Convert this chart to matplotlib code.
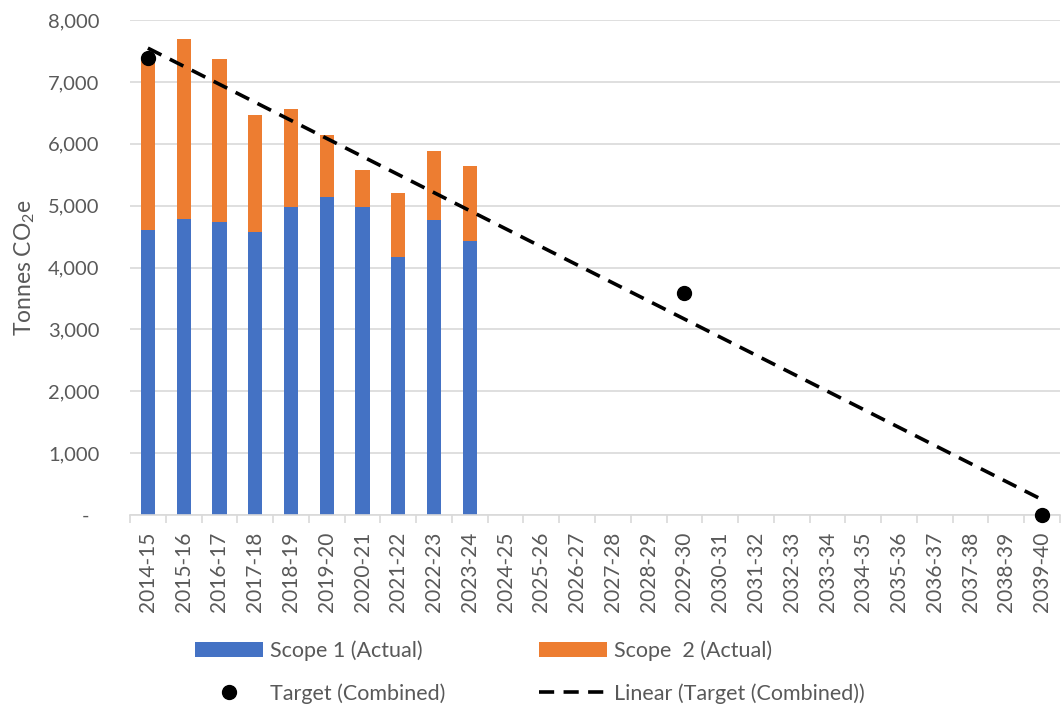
import numpy as np
import matplotlib
matplotlib.use("Agg")
import matplotlib.pyplot as plt
from matplotlib.patches import Patch
from matplotlib.lines import Line2D
from matplotlib.ticker import FuncFormatter, FixedLocator

plt.rcParams['font.family'] = ['Lato', 'DejaVu Sans']
plt.rcParams['mathtext.fontset'] = 'custom'
plt.rcParams['mathtext.rm'] = 'Lato'
plt.rcParams['mathtext.it'] = 'Lato:italic'

# Financial years on the category axis
years = [f"{y}-{(y + 1) % 100:02d}" for y in range(2014, 2040)]

# Actual emissions (tonnes CO2e), reported years only
scope1_actual = [4600, 4790, 4740, 4580, 4970, 5140, 4970, 4165, 4765, 4435]
scope2_actual = [2770, 2905, 2625, 1890, 1585, 1000, 605, 1035, 1125, 1205]

# Combined reduction targets
target_years = ["2014-15", "2029-30", "2039-40"]
target_values = [7380, 3580, 0]

BLUE = "#4472C4"
ORANGE = "#ED7D31"
GREY_TEXT = "#595959"
GRID = "#D9D9D9"

fig = plt.figure(figsize=(10.64, 7.06), dpi=100)
ax = fig.add_axes([130 / 1064, 1 - 515 / 706, 930 / 1064, (515 - 20) / 706])

x_all = np.arange(len(years))
x_act = x_all[:len(scope1_actual)]
bar_w = 0.4
ax.bar(x_act, scope1_actual, width=bar_w, color=BLUE, zorder=2)
ax.bar(x_act, scope2_actual, width=bar_w, bottom=scope1_actual, color=ORANGE, zorder=2)

# Target points and their least-squares linear trend
tx = np.array([years.index(t) for t in target_years], dtype=float)
ty = np.array(target_values, dtype=float)
ax.plot(tx, ty, 'o', color='black', markersize=10, zorder=4, clip_on=False)
slope, intercept = np.polyfit(tx + 1, ty, 1)
trend_x = np.array([x_all[0], x_all[-1]], dtype=float)
trend_y = slope * (trend_x + 1) + intercept
ax.plot(trend_x, trend_y, color='black', lw=2.6, dashes=(4.2, 2.6), zorder=3,
        solid_capstyle='butt', dash_capstyle='butt')

ax.set_xlim(-0.5, len(years) - 0.5)
ax.set_ylim(0, 8000)
ax.set_yticks(np.arange(0, 8001, 1000))
ax.yaxis.set_major_formatter(FuncFormatter(lambda v, p: "-  " if v == 0 else f"{int(v):,}"))
ax.grid(axis='y', color=GRID, lw=1.2, zorder=0)
ax.set_axisbelow(True)

ax.set_xticks(x_all)
ax.set_xticklabels(years, rotation=90)
ax.xaxis.set_minor_locator(FixedLocator(np.arange(-0.5, len(years), 1.0)))
ax.tick_params(axis='x', which='major', length=0, pad=12, labelsize=15, labelcolor=GREY_TEXT)
ax.tick_params(axis='x', which='minor', length=6, width=1.2, color=GRID, direction='out')
ax.tick_params(axis='y', length=0, pad=22, labelsize=14.5, labelcolor=GREY_TEXT)

for side in ('top', 'right', 'left'):
    ax.spines[side].set_visible(False)
ax.spines['bottom'].set_color(GRID)
ax.spines['bottom'].set_linewidth(1.2)

ax.set_ylabel("Tonnes CO$_2$e", fontsize=16.5, color=GREY_TEXT, labelpad=8)

handles = [
    Patch(facecolor=BLUE, label="Scope 1 (Actual)"),
    Line2D([], [], marker='o', ls='none', color='black', markersize=10, label="Target (Combined)"),
    Patch(facecolor=ORANGE, label="Scope  2 (Actual)"),
    Line2D([], [], color='black', lw=2.6, dashes=(4.2, 2.6), label="Linear (Target (Combined))"),
]
leg = fig.legend(handles=handles, ncol=2, loc='center',
                 bbox_to_anchor=(530 / 1064, 1 - 672 / 706), frameon=False,
                 fontsize=15.5, handlelength=3.15, handletextpad=0.33,
                 columnspacing=4.35, labelspacing=1.05)
for t in leg.get_texts():
    t.set_color(GREY_TEXT)

fig.savefig("out.png", dpi=100)
